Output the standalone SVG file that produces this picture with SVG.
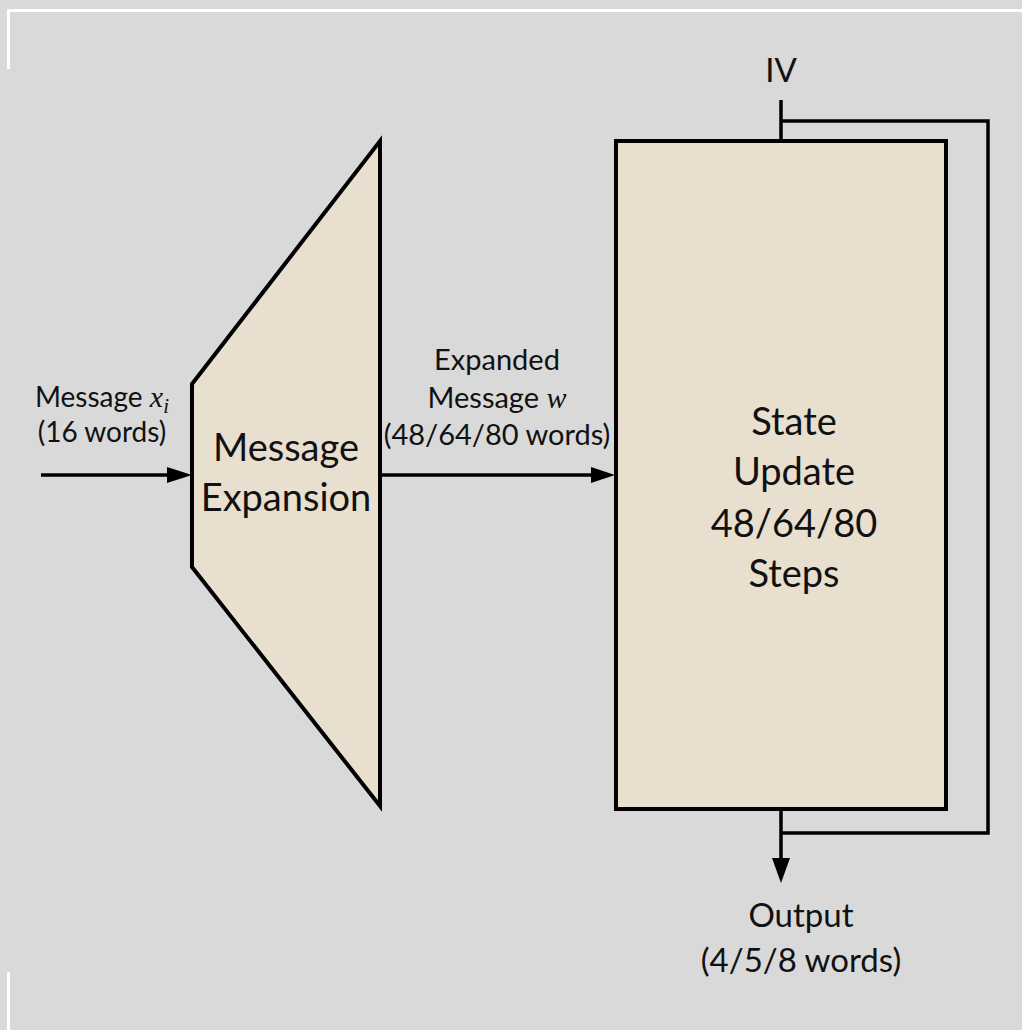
<svg xmlns="http://www.w3.org/2000/svg" width="1022" height="1030" viewBox="0 0 1022 1030">
  <style>
    .bg { fill: #d9d9d9; }
    .frame { stroke: #ffffff; stroke-width: 3; fill: none; }
    .block { fill: #e8dfcf; stroke: #000000; stroke-width: 4; stroke-linejoin: miter; }
    .wire { stroke: #000000; stroke-width: 3.5; fill: none; }
    .head { fill: #000000; }
    text { font-family: Lato, "Open Sans", sans-serif; fill: #111111; text-anchor: middle; }
    .big { font-size: 38px; }
    .lbl { font-size: 28px; }
    .mid { font-size: 29px; }
    .out { font-size: 33px; }
    .math { font-family: "Liberation Serif", serif; font-style: italic; font-size: 30px; }
    .sub { font-family: "Liberation Serif", serif; font-style: italic; font-size: 21px; }
  </style>

  <rect class="bg" x="0" y="0" width="1022" height="1030"/>

  <!-- page frame fragments -->
  <path class="frame" d="M8.5 69 V10.5 H1022"/>
  <path class="frame" d="M8.5 972 V1030"/>

  <!-- connectors -->
  <g id="connectors">
    <line class="wire" x1="41" y1="475" x2="172" y2="475"/>
    <polygon class="head" points="167,467 192,475 167,483"/>
    <line class="wire" x1="381" y1="475" x2="596" y2="475"/>
    <polygon class="head" points="591,467 615,475 591,483"/>
    <line class="wire" x1="781" y1="100" x2="781" y2="141"/>
    <path class="wire" d="M781 121 H988 V833 H781"/>
    <line class="wire" x1="781" y1="809" x2="781" y2="862"/>
    <polygon class="head" points="772,858 781,883 790,858"/>
  </g>

  <!-- message expansion -->
  <g id="message-expansion">
    <polygon class="block" points="192,384 380,141 380,806 192,567"/>
    <text class="big" x="286" y="461">Message</text>
    <text class="big" x="286" y="511">Expansion</text>
  </g>

  <!-- state update -->
  <g id="state-update">
    <rect class="block" x="616" y="141" width="330" height="668"/>
    <text class="big" x="794" y="435">State</text>
    <text class="big" x="794" y="485">Update</text>
    <text class="big" x="794" y="537">48/64/80</text>
    <text class="big" x="794" y="587">Steps</text>
  </g>

  <!-- input label -->
  <g id="input-label">
    <text class="lbl" x="102" y="407">Message <tspan class="math">x</tspan><tspan class="sub" dy="6">i</tspan></text>
    <text class="lbl" x="102" y="442">(16 words)</text>
  </g>

  <!-- expanded message label -->
  <g id="expanded-label">
    <text class="mid" x="497" y="370">Expanded</text>
    <text class="mid" x="497" y="408">Message <tspan class="math">w</tspan></text>
    <text class="mid" x="497" y="445">(48/64/80 words)</text>
  </g>

  <!-- IV label -->
  <g id="iv-label">
    <text class="out" x="781" y="82">IV</text>
  </g>

  <!-- output label -->
  <g id="output-label">
    <text class="out" x="801" y="927">Output</text>
    <text class="out" x="801" y="972">(4/5/8 words)</text>
  </g>
</svg>
